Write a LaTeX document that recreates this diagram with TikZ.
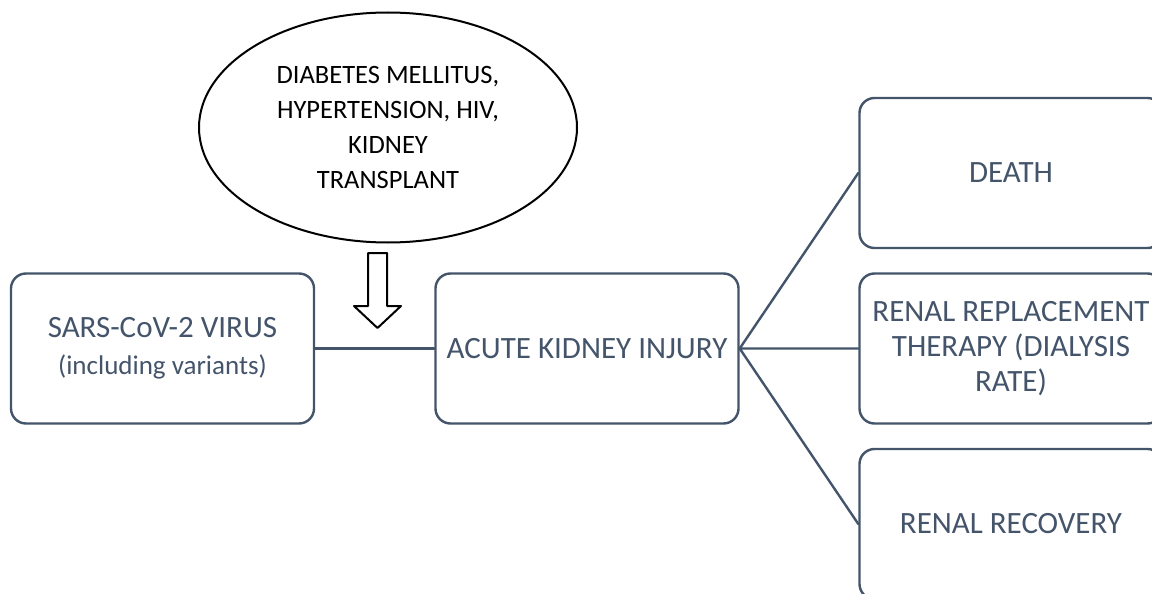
\documentclass[tikz,border=0pt]{standalone}
\usepackage{fontspec}
\setmainfont{Carlito}
\usetikzlibrary{shapes.geometric}
\definecolor{xamxanh}{HTML}{44546A}
\begin{document}
\begin{tikzpicture}[x=1pt,y=-1pt,line join=round,line cap=round,
    hop/.style={draw=xamxanh,line width=2.4pt,rounded corners=15pt,text=xamxanh,
        minimum width=303pt,minimum height=150pt,inner sep=0pt,align=center,
        font=\fontsize{31}{35}\selectfont},
    benh/.style={draw=black,line width=2pt,ellipse,minimum width=378pt,minimum height=230pt,
        inner sep=0pt,align=center,font=\fontsize{26.5}{35}\selectfont},
    noi/.style={draw=xamxanh,line width=2.4pt},
    muiten/.style={draw=black,line width=2pt,fill=white}]
    \useasboundingbox (0,0) rectangle (1152,594);
    \clip (0,0) rectangle (1152,594);
    \def\cot{1011} % cot ben phai
    \node[benh] (nguyco) at (388,127.5) {DIABETES MELLITUS,\\HYPERTENSION, HIV,\\KIDNEY\\TRANSPLANT};
    \node[hop] (virus) at (162.5,348.5) {SARS-CoV-2 VIRUS\\[1.5pt]{\fontsize{27}{33}\selectfont(including variants)}};
    \node[hop] (aki) at (587,348.5) {ACUTE KIDNEY INJURY};
    \node[hop] (chet) at (\cot,173) {DEATH};
    \node[hop] (loc) at (\cot,348.5) {RENAL REPLACEMENT\\THERAPY (DIALYSIS\\RATE)};
    \node[hop] (hoiphuc) at (\cot,524) {RENAL RECOVERY};
    \draw[noi] (virus) -- (aki);
    \draw[noi] (aki.east) -- (chet.west) (aki.east) -- (loc.west) (aki.east) -- (hoiphuc.west);
    % mui ten rong
    \draw[muiten] (368,253) -- (387,253) -- (387,306) -- (401,306) -- (377.5,328) -- (354,306) -- (368,306) -- cycle;
\end{tikzpicture}
\end{document}
